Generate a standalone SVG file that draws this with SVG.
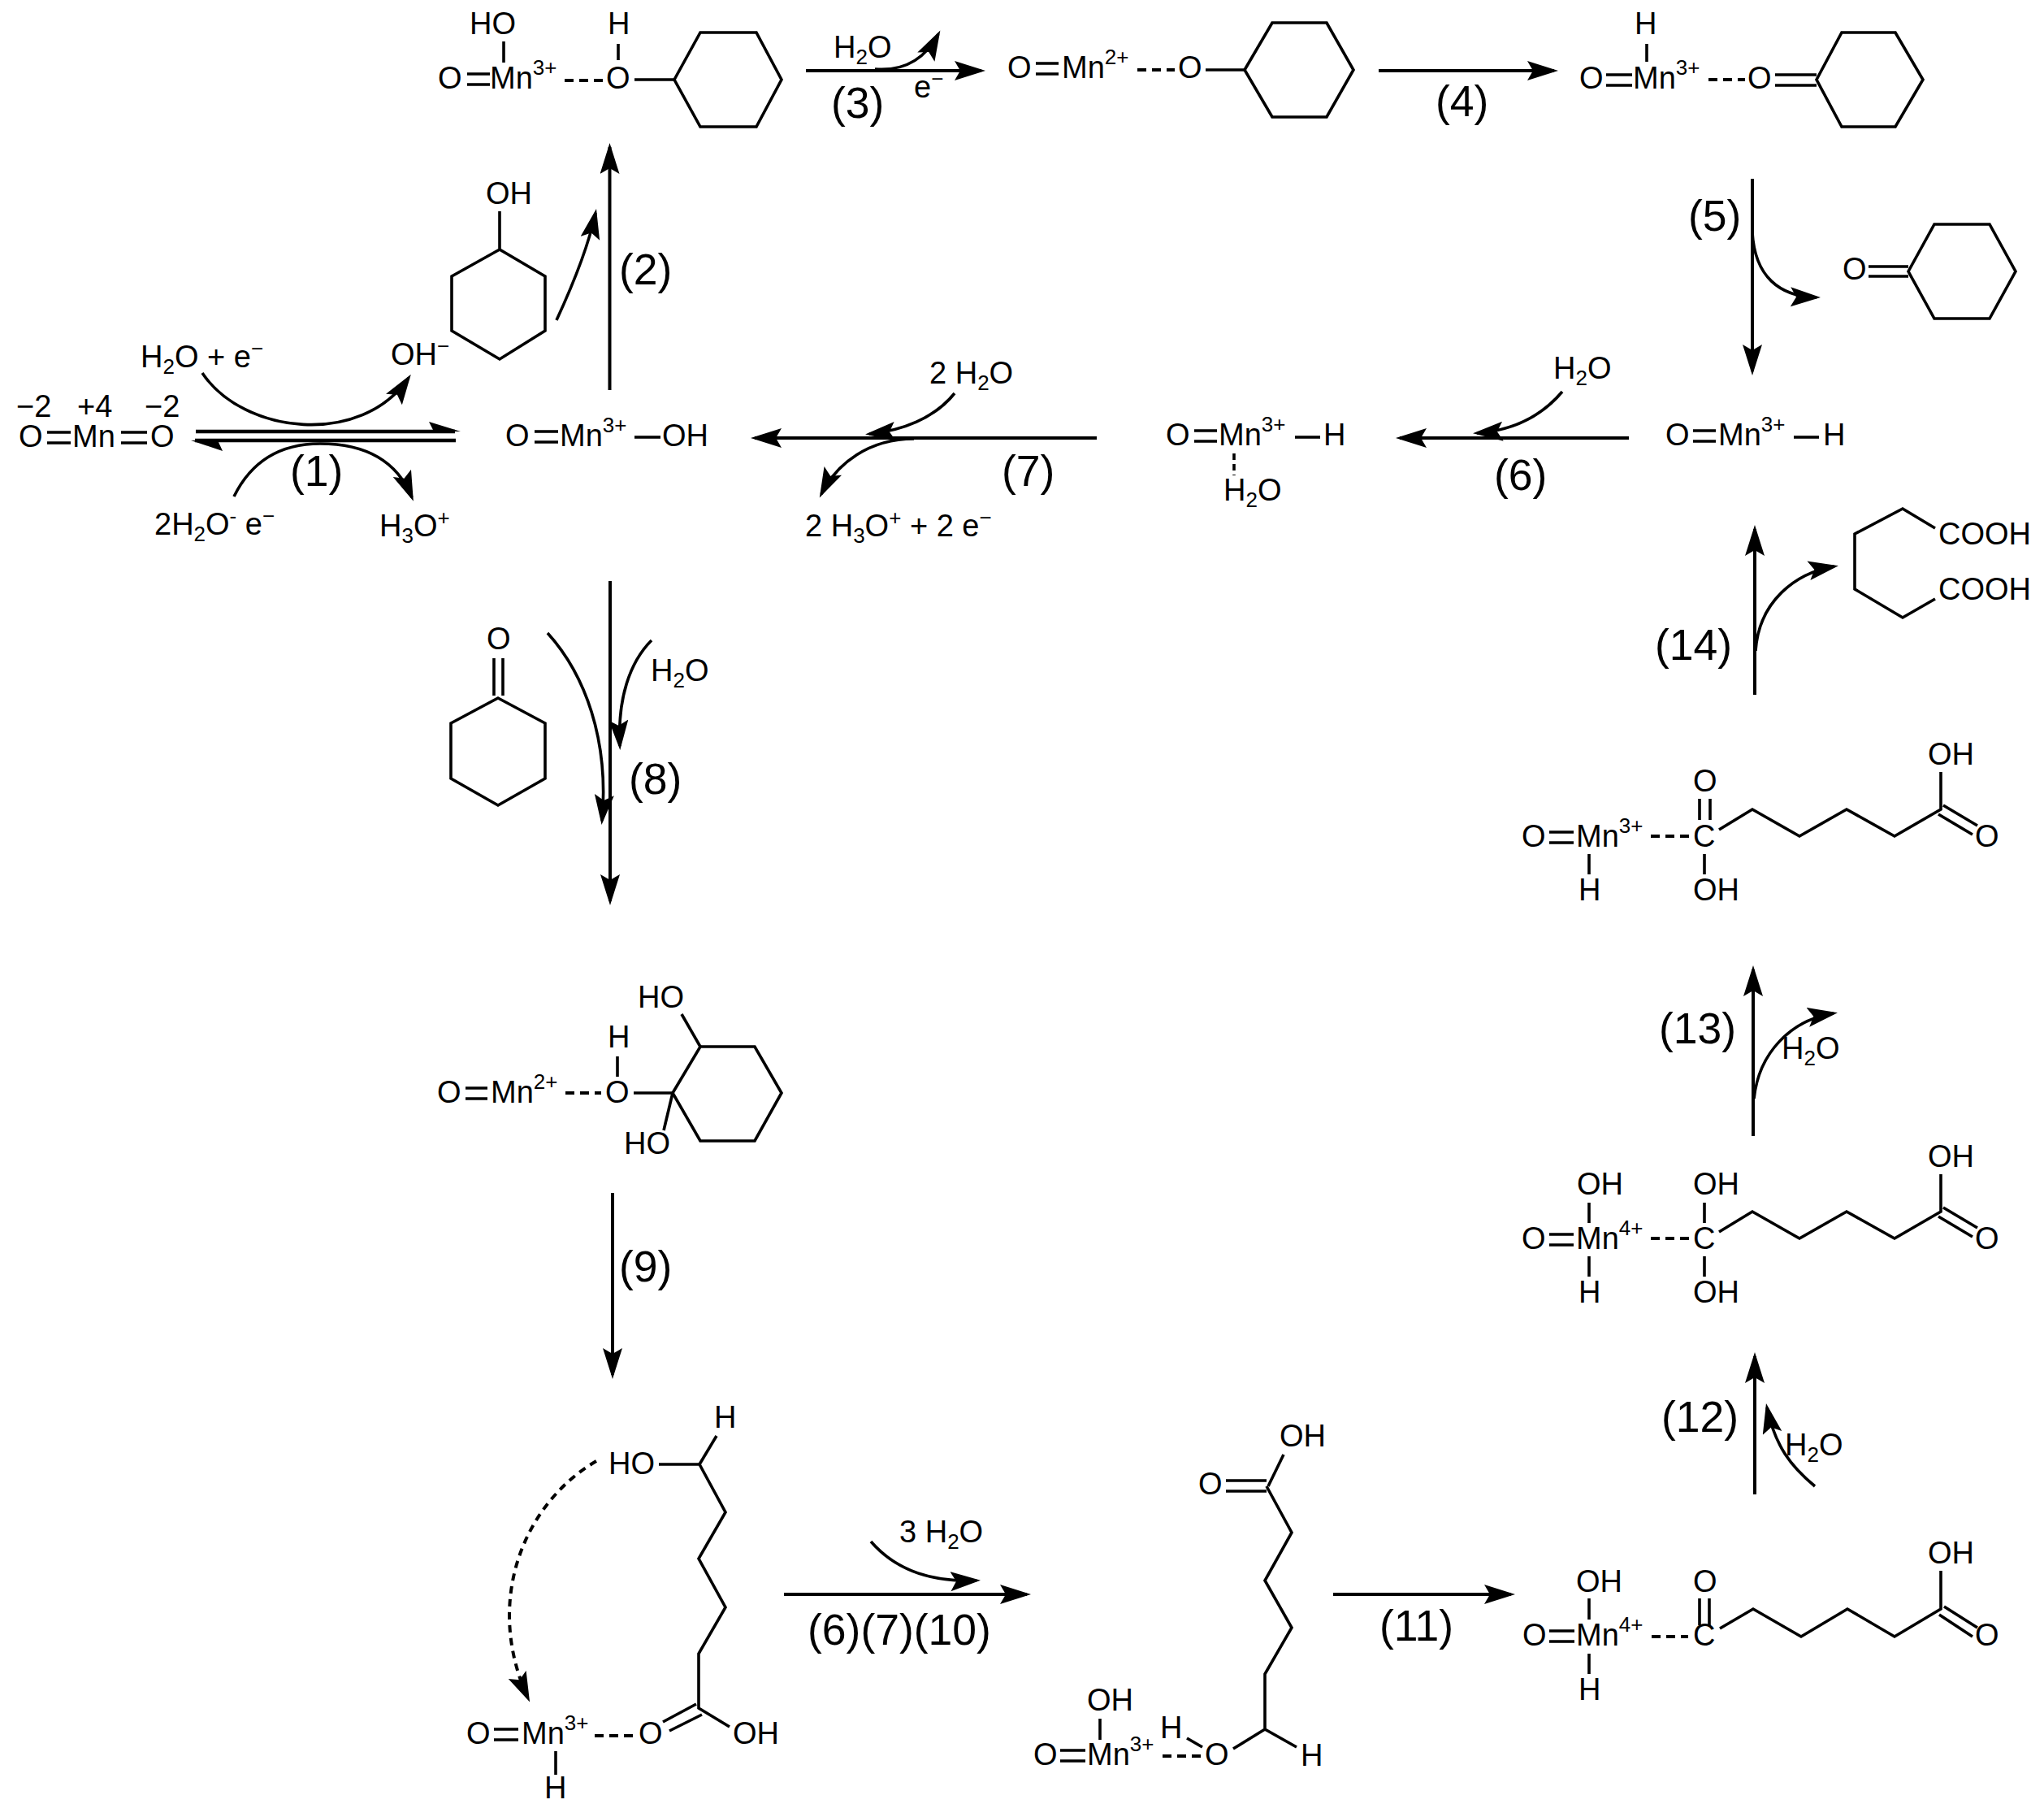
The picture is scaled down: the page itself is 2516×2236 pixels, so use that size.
<svg xmlns="http://www.w3.org/2000/svg" width="2516" height="2236" viewBox="0 0 2516 2236">
<defs>
<marker id="ah" markerUnits="userSpaceOnUse" markerWidth="40" markerHeight="26" refX="33" refY="12" orient="auto"><path d="M38,12 L0,0 L7,12 L0,24 Z" fill="#000"/></marker>
<marker id="ac" markerUnits="userSpaceOnUse" markerWidth="40" markerHeight="26" refX="32" refY="12" orient="auto"><path d="M37,12 L0,0 L7,12 L0,24 Z" fill="#000"/></marker>
</defs>
<style>
text{font-family:"Liberation Sans",Arial,sans-serif;font-size:38px;fill:#000}
.s{font-size:26px}
.l{font-size:53.5px}
.b{fill:none;stroke:#000;stroke-width:3.6}
.d{fill:none;stroke:#000;stroke-width:4;stroke-dasharray:11 7}
.a{fill:none;stroke:#000;stroke-width:4;marker-end:url(#ah)}
.c{fill:none;stroke:#000;stroke-width:3.6;marker-end:url(#ac)}
.e{fill:none;stroke:#000;stroke-width:4.4}
</style>
<rect width="2516" height="2236" fill="#fff"/>

<g id="connectors">
<path class="a" d="M992,87H1208"/>
<path class="c" d="M1077,85C1115,88 1140,70 1155,42"/>
<path class="a" d="M1697,87H1913"/>
<path class="a" d="M750.5,480V181"/>
<path class="c" d="M685,394C710,340 725,300 733,262"/>
<path class="c" d="M249,459C300,535 445,550 503,465"/>
<path class="e" d="M241,531H560"/><path d="M567,531L528,519L534,531Z" fill="#000"/>
<path class="e" d="M240,542H561"/><path d="M235,542L274,555L268,542Z" fill="#000"/>
<path class="c" d="M288,611Q320,546 394,546Q480,546 507,612"/>
<path class="a" d="M1350,539H929"/>
<path class="c" d="M1175,484C1150,515 1110,530 1070,534"/>
<path class="c" d="M1125,540C1070,540 1030,570 1011,608"/>
<path class="a" d="M2005,539H1723"/>
<path class="c" d="M1923,482C1895,515 1860,530 1818,533"/>
<path class="a" d="M2157,220V457"/>
<path class="c" d="M2157,286C2160,340 2190,365 2236,366"/>
<path class="a" d="M751,715V1109"/>
<path class="c" d="M674,779C720,830 750,910 741,1010"/>
<path class="c" d="M802,788C775,815 760,860 763,918"/>
<path class="a" d="M754,1468V1692"/>
<path class="d" style="stroke-dasharray:9 7" d="M734,1798C645,1850 595,1970 650,2090" marker-end="url(#ac)"/>
<path class="a" d="M965,1962H1264"/>
<path class="c" d="M1072,1897C1105,1935 1150,1947 1202,1945"/>
<path class="a" d="M1641,1962H1860"/>
<path class="a" d="M2160,1839V1669"/>
<path class="c" d="M2234,1829C2205,1805 2185,1780 2175,1732"/>
<path class="a" d="M2158,1398V1193"/>
<path class="c" d="M2159,1352C2165,1295 2205,1255 2257,1247"/>
<path class="a" d="M2160,855V651"/>
<path class="c" d="M2161,801C2165,740 2210,705 2258,697"/>
</g>

<g id="labels">
<text class="l" x="357" y="598">(1)</text>
<text class="l" x="762" y="350">(2)</text>
<text class="l" x="1023" y="145">(3)</text>
<text class="l" x="1767" y="143">(4)</text>
<text class="l" x="2078" y="284">(5)</text>
<text class="l" x="1839" y="603">(6)</text>
<text class="l" x="1233" y="598">(7)</text>
<text class="l" x="774" y="977">(8)</text>
<text class="l" x="762" y="1577">(9)</text>
<text class="l" x="994" y="2024">(6)(7)(10)</text>
<text class="l" x="1698" y="2019">(11)</text>
<text class="l" x="2045" y="1762">(12)</text>
<text class="l" x="2042" y="1284">(13)</text>
<text class="l" x="2037" y="812">(14)</text>
<text x="1026" y="71">H<tspan class="s" dy="8">2</tspan><tspan dy="-8">O</tspan></text>
<text x="1125" y="120">e<tspan class="s" dy="-14">−</tspan></text>
<text x="173" y="452">H<tspan class="s" dy="8">2</tspan><tspan dy="-8">O + e</tspan><tspan class="s" dy="-14">−</tspan></text>
<text x="481" y="449">OH<tspan class="s" dy="-14">−</tspan></text>
<text x="190" y="658">2H<tspan class="s" dy="8">2</tspan><tspan dy="-8">O</tspan><tspan class="s" dy="-14">-</tspan><tspan dy="14"> e</tspan><tspan class="s" dy="-14">−</tspan></text>
<text x="467" y="660">H<tspan class="s" dy="8">3</tspan><tspan dy="-8">O</tspan><tspan class="s" dy="-14">+</tspan></text>
<text x="1144" y="472">2 H<tspan class="s" dy="8">2</tspan><tspan dy="-8">O</tspan></text>
<text x="991" y="660">2 H<tspan class="s" dy="8">3</tspan><tspan dy="-8">O</tspan><tspan class="s" dy="-14">+</tspan><tspan dy="14"> + 2 e</tspan><tspan class="s" dy="-14">−</tspan></text>
<text x="1912" y="466">H<tspan class="s" dy="8">2</tspan><tspan dy="-8">O</tspan></text>
<text x="801" y="838">H<tspan class="s" dy="8">2</tspan><tspan dy="-8">O</tspan></text>
<text x="1107" y="1898">3 H<tspan class="s" dy="8">2</tspan><tspan dy="-8">O</tspan></text>
<text x="2197" y="1791">H<tspan class="s" dy="8">2</tspan><tspan dy="-8">O</tspan></text>
<text x="2193" y="1303">H<tspan class="s" dy="8">2</tspan><tspan dy="-8">O</tspan></text>
</g>

<g id="n-mno2">
<text x="20" y="513">−2</text><text x="95" y="513">+4</text><text x="178" y="513">−2</text>
<text x="23" y="550">O</text><path class="b" d="M58,532H87M58,545H87"/>
<text x="89" y="550">Mn</text><path class="b" d="M149,532H181M149,545H181"/>
<text x="185" y="550">O</text>
</g>
<g id="n-mn3-oh">
<text x="622" y="549">O</text><path class="b" d="M658,531H687M658,544H687"/>
<text x="689" y="549">Mn<tspan class="s" dy="-17">3+</tspan></text>
<path class="b" d="M781,538H813"/><text x="815" y="549">OH</text>
</g>
<g id="n-cyclohexanol">
<text x="598" y="251">OH</text><path class="b" d="M615,260V307L671,340V407L615,442L556,407V340L615,307"/>
</g>
<g id="n-complex-1">
<text x="578" y="42">HO</text><path class="b" d="M620,51V77"/>
<text x="539" y="109">O</text><path class="b" d="M575,91H603M575,104H603"/>
<text x="603" y="109">Mn<tspan class="s" dy="-17">3+</tspan></text>
<path class="d" d="M695,99H743"/>
<text x="746" y="109">O</text><text x="748" y="42">H</text><path class="b" d="M761,54V74M781,98H830"/>
<path class="b" d="M830,98L862,40H931L962,98L931,156H862Z"/>
</g>
<g id="n-complex-2">
<text x="1240" y="96">O</text><path class="b" d="M1275,78H1303M1275,91H1303"/>
<text x="1307" y="96">Mn<tspan class="s" dy="-17">2+</tspan></text>
<path class="d" d="M1400,86H1446"/>
<text x="1450" y="96">O</text><path class="b" d="M1484,86H1532"/>
<path class="b" d="M1532,86L1566,28H1633L1666,86L1633,144H1566Z"/>
</g>
<g id="n-complex-3">
<text x="2012" y="42">H</text><path class="b" d="M2027,54V76"/>
<text x="1944" y="109">O</text><path class="b" d="M1977,92H2009M1977,105H2009"/>
<text x="2010" y="109">Mn<tspan class="s" dy="-17">3+</tspan></text>
<path class="d" d="M2103,98H2148"/>
<text x="2151" y="109">O</text><path class="b" d="M2185,92H2236M2185,105H2236"/>
<path class="b" d="M2236,98L2267,40H2333L2367,98L2333,156H2267Z"/>
</g>
<g id="n-cyclohexanone">
<text x="2268" y="344">O</text><path class="b" d="M2300,328H2349M2300,340H2349"/>
<path class="b" d="M2349,334L2381,276H2449L2481,334L2449,392H2381Z"/>
</g>
<g id="n-mn3-h">
<text x="2050" y="548">O</text><path class="b" d="M2084,530H2112M2084,543H2112"/>
<text x="2115" y="548">Mn<tspan class="s" dy="-17">3+</tspan></text>
<path class="b" d="M2208,538H2239"/><text x="2244" y="548">H</text>
</g>
<g id="n-mn3-h-h2o">
<text x="1435" y="548">O</text><path class="b" d="M1470,530H1498M1470,543H1498"/>
<text x="1500" y="548">Mn<tspan class="s" dy="-17">3+</tspan></text>
<path class="b" d="M1594,538H1625"/><text x="1629" y="548">H</text>
<path class="b" d="M1519,558V585" stroke-dasharray="8 5"/>
<text x="1506" y="616">H<tspan class="s" dy="8">2</tspan><tspan dy="-8">O</tspan></text>
</g>
<g id="n-cyclohexanone-2">
<text x="599" y="799">O</text><path class="b" d="M608,810V856M619,810V856"/>
<path class="b" d="M613,859L671,890V958L613,991L555,958V890Z"/>
</g>
<g id="n-diol">
<text x="785" y="1240">HO</text><path class="b" d="M839,1248L862,1288"/>
<text x="768" y="1420">HO</text><path class="b" d="M828,1345L817,1391"/>
<text x="538" y="1357">O</text><path class="b" d="M573,1339H600M573,1352H600"/>
<text x="604" y="1357">Mn<tspan class="s" dy="-17">2+</tspan></text>
<path class="d" d="M696,1345H740"/>
<text x="745" y="1357">O</text><text x="748" y="1289">H</text><path class="b" d="M760,1300V1325M780,1345H828"/>
<path class="b" d="M828,1345L862,1288H929L962,1345L929,1404H862Z"/>
</g>
<g id="n-hydroxy-acid">
<text x="879" y="1757">H</text><path class="b" d="M882,1767L861,1802"/>
<text x="749" y="1814">HO</text>
<path class="b" d="M811,1802H861L893,1861L860,1918L893,1978L860,2035V2102L898,2125"/>
<text x="902" y="2146">OH</text>
<path class="b" d="M857,2097L816,2119M864,2110L824,2130"/>
<text x="786" y="2146">O</text>
<path class="d" d="M732,2136H781"/>
<text x="574" y="2146">O</text><path class="b" d="M608,2128H638M608,2141H638"/>
<text x="642" y="2146">Mn<tspan class="s" dy="-17">3+</tspan></text>
<path class="b" d="M684,2155V2184"/><text x="670" y="2213">H</text>
</g>
<g id="n-long-chain">
<text x="1575" y="1780">OH</text><path class="b" d="M1561,1829L1580,1790"/>
<text x="1475" y="1839">O</text><path class="b" d="M1509,1822H1559M1509,1835H1559"/>
<path class="b" d="M1559,1829L1590,1886L1557,1945L1590,2003L1557,2060V2128L1596,2150M1557,2128L1518,2152"/>
<text x="1601" y="2173">H</text>
<text x="1483" y="2172">O</text>
<text x="1428" y="2139">H</text><path class="b" d="M1461,2139L1480,2150"/>
<path class="d" d="M1431,2161H1480"/>
<text x="1272" y="2172">O</text><path class="b" d="M1305,2154H1336M1305,2167H1336"/>
<text x="1338" y="2172">Mn<tspan class="s" dy="-17">3+</tspan></text>
<text x="1338" y="2105">OH</text><path class="b" d="M1354,2115V2141"/>
</g>
<g id="n-keto-acid-mn4">
<text x="1874" y="2025">O</text><path class="b" d="M1907,2007H1938M1907,2020H1938"/>
<text x="1940" y="2025">Mn<tspan class="s" dy="-17">4+</tspan></text>
<path class="d" d="M2033,2014H2078"/>
<text x="2084" y="2025">C</text>
<text x="2084" y="1959">O</text><path class="b" d="M2092,1967V2000M2104,1967V2000"/>
<path class="b" d="M2117,2004L2158,1980L2217,2014L2274,1980L2332,2014L2389,1980V1933"/>
<text x="2373" y="1924">OH</text>
<path class="b" d="M2387,1987L2428,2014M2393,1977L2434,2003"/>
<text x="2431" y="2025">O</text>
<text x="1940" y="1959">OH</text><path class="b" d="M1956,1967V1993M1956,2035V2060"/>
<text x="1943" y="2092">H</text>
</g>
<g id="n-gem-diol-mn4">
<text x="1873" y="1537">O</text><path class="b" d="M1907,1519H1937M1907,1532H1937"/>
<text x="1940" y="1537">Mn<tspan class="s" dy="-17">4+</tspan></text>
<path class="d" d="M2032,1524H2079"/>
<text x="2084" y="1537">C</text>
<text x="2084" y="1470">OH</text><path class="b" d="M2098,1480V1505M2098,1546V1571"/>
<text x="2084" y="1603">OH</text>
<path class="b" d="M2116,1516L2157,1491L2215,1524L2273,1491L2332,1524L2389,1491V1445"/>
<text x="2373" y="1436">OH</text>
<path class="b" d="M2386,1497L2428,1522M2392,1486L2434,1511"/>
<text x="2431" y="1537">O</text>
<text x="1941" y="1470">OH</text><path class="b" d="M1956,1480V1505M1956,1546V1571"/>
<text x="1943" y="1603">H</text>
</g>
<g id="n-acid-mn3">
<text x="1873" y="1042">O</text><path class="b" d="M1907,1024H1937M1907,1037H1937"/>
<text x="1940" y="1042">Mn<tspan class="s" dy="-17">3+</tspan></text>
<path class="d" d="M2032,1029H2079"/>
<text x="2084" y="1042">C</text>
<text x="2084" y="974">O</text><path class="b" d="M2092,983V1009M2105,983V1009"/>
<text x="2084" y="1108">OH</text><path class="b" d="M2098,1051V1076"/>
<path class="b" d="M2116,1021L2157,996L2215,1029L2273,996L2332,1029L2389,996V950"/>
<text x="2373" y="941">OH</text>
<path class="b" d="M2386,1002L2428,1027M2392,991L2434,1016"/>
<text x="2431" y="1042">O</text>
<path class="b" d="M1956,1051V1076"/><text x="1943" y="1108">H</text>
</g>
<g id="n-adipic-acid">
<text x="2386" y="670">COOH</text><text x="2386" y="738">COOH</text>
<path class="b" d="M2382,650L2342,626L2283,657V725L2342,760L2382,737"/>
</g>
</svg>
